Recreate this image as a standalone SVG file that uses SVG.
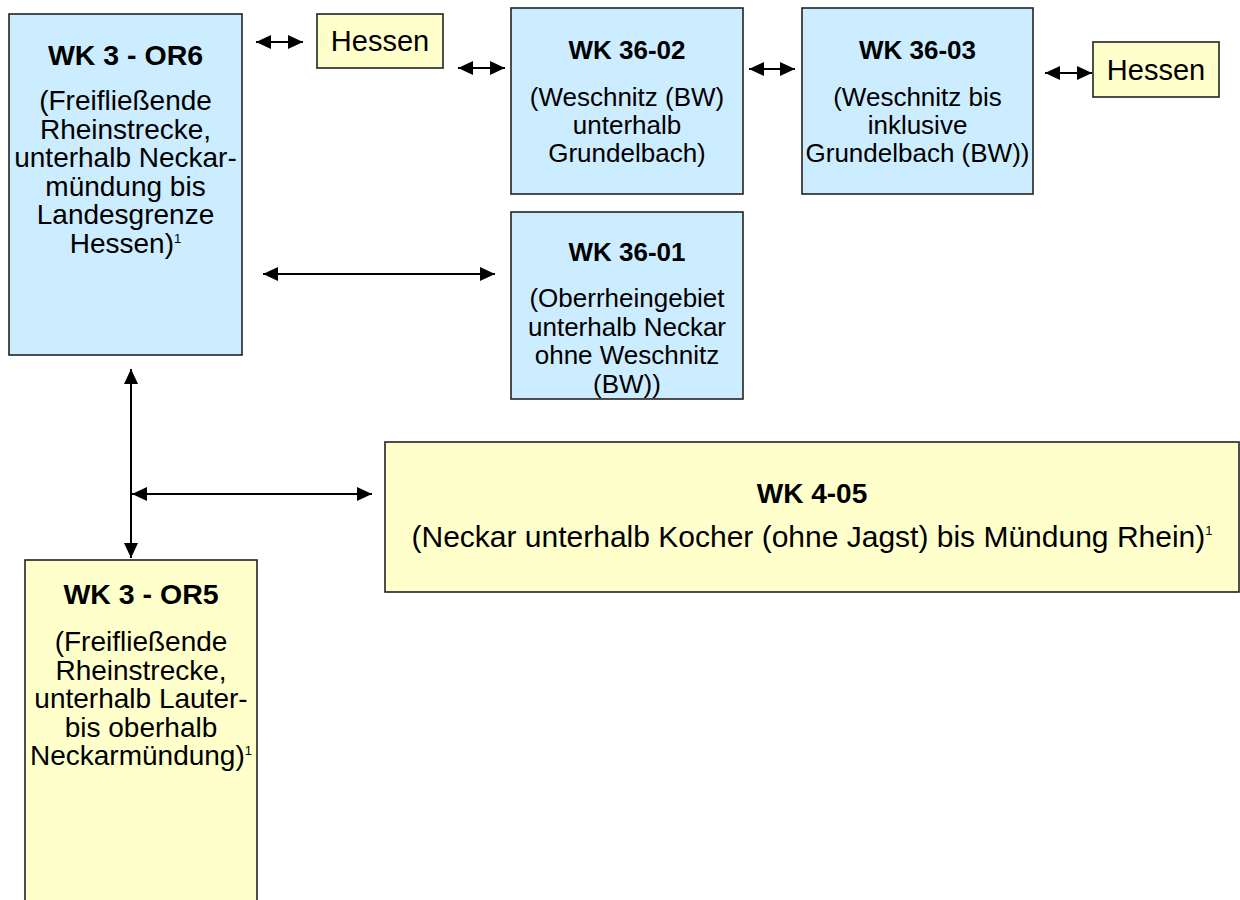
<svg xmlns="http://www.w3.org/2000/svg" width="1240" height="900" viewBox="0 0 1240 900">
<style>
  .blue { fill: #CCECFF; stroke: #222; stroke-width: 1.6; }
  .yellow { fill: #FFFFCC; stroke: #222; stroke-width: 1.6; }
  text { font-family: "Liberation Sans", Arial, sans-serif; fill: #000; text-anchor: middle; }
  .t { font-weight: bold; font-size: 26px; }
  .tb { font-weight: bold; font-size: 28.5px; }
  .t4 { font-weight: bold; font-size: 28px; }
  .b { font-size: 28px; }
  .s { font-size: 26px; }
  .w { font-size: 30px; }
  .h { font-size: 29px; }
  .sup { font-size: 13px; }
  .conn line { stroke: #000; stroke-width: 2; marker-start: url(#ah); marker-end: url(#ah); }
</style>
<defs>
  <marker id="ah" markerUnits="userSpaceOnUse" markerWidth="15" markerHeight="14" refX="15" refY="7" orient="auto-start-reverse">
    <path d="M0,0 L15,7 L0,14 z" fill="#000"/>
  </marker>
</defs>
<rect width="1240" height="900" fill="#fff"/>

<g id="or6">
  <rect class="blue" x="9" y="14" width="233" height="341"/>
  <text class="tb" x="125.5" y="65">WK 3 - OR6</text>
  <text class="b" x="125.5" y="110">(Freifließende</text>
  <text class="b" x="125.5" y="138.5">Rheinstrecke,</text>
  <text class="b" x="125.5" y="167">unterhalb Neckar-</text>
  <text class="b" x="125.5" y="195.5">mündung bis</text>
  <text class="b" x="125.5" y="224">Landesgrenze</text>
  <text class="b" x="125.5" y="253">Hessen)<tspan class="sup" dy="-10">1</tspan></text>
</g>

<g id="hessen1">
  <rect class="yellow" x="317" y="14" width="126" height="54"/>
  <text class="h" x="380" y="51">Hessen</text>
</g>

<g id="wk3602">
  <rect class="blue" x="511" y="8" width="232" height="186"/>
  <text class="t" x="627" y="59">WK 36-02</text>
  <text class="s" x="627" y="106">(Weschnitz (BW)</text>
  <text class="s" x="627" y="134">unterhalb</text>
  <text class="s" x="627" y="162">Grundelbach)</text>
</g>

<g id="wk3603">
  <rect class="blue" x="802" y="8" width="231" height="186"/>
  <text class="t" x="917.5" y="59">WK 36-03</text>
  <text class="s" x="917.5" y="106">(Weschnitz bis</text>
  <text class="s" x="917.5" y="134">inklusive</text>
  <text class="s" x="917.5" y="162">Grundelbach (BW))</text>
</g>

<g id="hessen2">
  <rect class="yellow" x="1093" y="42" width="126" height="55"/>
  <text class="h" x="1156" y="80">Hessen</text>
</g>

<g id="wk3601">
  <rect class="blue" x="511" y="212" width="232" height="187"/>
  <text class="t" x="627" y="261">WK 36-01</text>
  <text class="s" x="627" y="307">(Oberrheingebiet</text>
  <text class="s" x="627" y="335.5">unterhalb Neckar</text>
  <text class="s" x="627" y="364">ohne Weschnitz</text>
  <text class="s" x="627" y="393">(BW))</text>
</g>

<g id="wk405">
  <rect class="yellow" x="385" y="442" width="854" height="150"/>
  <text class="t4" x="812" y="503">WK 4-05</text>
  <text class="w" x="812" y="547">(Neckar unterhalb Kocher (ohne Jagst) bis Mündung Rhein)<tspan class="sup" dy="-12">1</tspan></text>
</g>

<g id="or5">
  <rect class="yellow" x="25" y="560" width="232" height="360"/>
  <text class="tb" x="141" y="604">WK 3 - OR5</text>
  <text class="b" x="141" y="651">(Freifließende</text>
  <text class="b" x="141" y="679.5">Rheinstrecke,</text>
  <text class="b" x="141" y="708">unterhalb Lauter-</text>
  <text class="b" x="141" y="736.5">bis oberhalb</text>
  <text class="b" x="141" y="765">Neckarmündung)<tspan class="sup" dy="-10">1</tspan></text>
</g>

<g id="connectors" class="conn">
  <line x1="256" y1="42" x2="303" y2="42"/>
  <line x1="458" y1="68" x2="505" y2="68"/>
  <line x1="749" y1="69" x2="795" y2="69"/>
  <line x1="1045" y1="73" x2="1092" y2="73"/>
  <line x1="263" y1="274" x2="495" y2="274"/>
  <line x1="131" y1="369" x2="131" y2="558"/>
  <line x1="132" y1="494" x2="372" y2="494"/>
</g>
</svg>
